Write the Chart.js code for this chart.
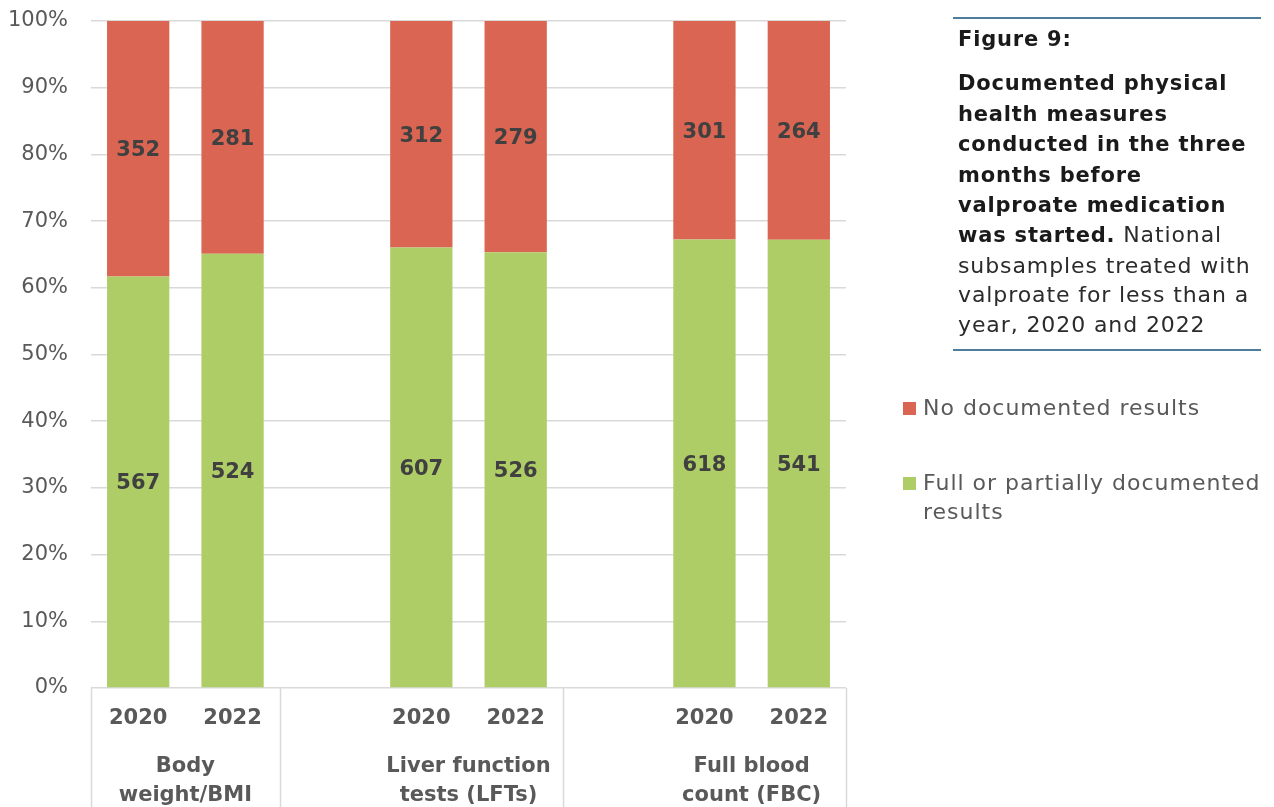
<!DOCTYPE html>
<html>
<head>
<meta charset="utf-8">
<script src="https://cdn.jsdelivr.net/npm/chart.js@4.4.1/dist/chart.umd.min.js"></script>
<style>
  html, body { margin:0; padding:0; background:#fff; }
  body { width:1274px; height:807px; position:relative; overflow:hidden; font-family:"DejaVu Sans", sans-serif; }
  #wrap { position:absolute; left:0; top:0; width:1274px; height:807px; }
  .rule { position:absolute; left:953px; width:308px; height:2px; background:#4e7d9c; }
  #title { position:absolute; left:958px; top:24px; font-size:22px; letter-spacing:0.9px; line-height:29.4px; color:#2b2b2b; white-space:nowrap; }
  #title b { color:#1a1a1a; font-weight:700; font-size:21px; letter-spacing:0.8px; }
  .leg { position:absolute; left:903px; font-size:22px; letter-spacing:1px; line-height:29.4px; color:#595959; white-space:nowrap; }
  .leg span.sw { position:absolute; left:0; top:9px; width:13px; height:13px; }
  .leg span.tx { position:absolute; left:20px; top:0; }
</style>
</head>
<body>
<div id="wrap"><canvas id="c" width="1274" height="807"></canvas></div>
<div class="rule" style="top:17px"></div>
<div id="title"><b>Figure 9:</b><div style="height:14px"></div><b>Documented physical<br>health measures<br>conducted in the three<br>months before<br>valproate medication<br>was started.</b> National<br>subsamples treated with<br>valproate for less than a<br>year, 2020 and 2022</div>
<div class="rule" style="top:349px"></div>
<div class="leg" style="top:393px"><span class="sw" style="background:#d96552"></span><span class="tx">No documented results</span></div>
<div class="leg" style="top:468px"><span class="sw" style="background:#afcd67"></span><span class="tx">Full or partially documented<br>results</span></div>
<script>
const yearLabels = ['2020','2022','','2020','2022','','2020','2022'];
const groupLabels = [['Body','weight/BMI'],['Liver function','tests (LFTs)'],['Full blood','count (FBC)']];
const groupSlots = [[0,1],[3,4],[6,7]];
const noDocCounts = [352, 281, null, 312, 279, null, 301, 264];
const docCounts   = [567, 524, null, 607, 526, null, 618, 541];
const seriesNames = ['Full or partially documented results','No documented results'];
const tickValues = [0,10,20,30,40,50,60,70,80,90,100];

const pct = (a, b) => a.map((v, i) => v == null ? null : 100 * v / (v + b[i]));
const docPct = pct(docCounts, noDocCounts);
const noDocPct = pct(noDocCounts, docCounts);

const FONT = '"DejaVu Sans", sans-serif';
const RED = '#d96552', GREEN = '#afcd67';

const labelPlugin = {
  id: 'labels',
  afterDatasetsDraw(chart) {
    const ctx = chart.ctx;
    ctx.save();
    ctx.font = 'bold 21px ' + FONT;
    ctx.fillStyle = '#404040';
    ctx.textAlign = 'center';
    ctx.textBaseline = 'middle';
    const counts = [docCounts, noDocCounts];
    chart.data.datasets.forEach((ds, di) => {
      const meta = chart.getDatasetMeta(di);
      meta.data.forEach((el, i) => {
        if (counts[di][i] == null) return;
        ctx.fillText(String(counts[di][i]), el.x, (el.y + el.base) / 2 + 2);
      });
    });
    ctx.restore();
  },
  afterDraw(chart) {
    const ctx = chart.ctx;
    const xs = chart.scales.x;
    const area = chart.chartArea;
    const step = xs.getPixelForValue(1) - xs.getPixelForValue(0);
    ctx.save();
    ctx.strokeStyle = '#d9d9d9';
    ctx.lineWidth = 1.5;
    const seps = [ -0.5, 1.5, 4.5, 7.5 ];
    seps.forEach(s => {
      const x = Math.round(xs.getPixelForValue(0) + s * step) + 0.5;
      ctx.beginPath();
      ctx.moveTo(x, area.bottom);
      ctx.lineTo(x, chart.height);
      ctx.stroke();
    });
    ctx.font = 'bold 21px ' + FONT;
    ctx.fillStyle = '#595959';
    ctx.textAlign = 'center';
    ctx.textBaseline = 'middle';
    groupSlots.forEach((sl, gi) => {
      const x = (xs.getPixelForValue(sl[0]) + xs.getPixelForValue(sl[1])) / 2;
      groupLabels[gi].forEach((ln, li) => ctx.fillText(ln, x, area.bottom + 79 + li * 29));
    });
    ctx.restore();
  }
};

new Chart(document.getElementById('c'), {
  type: 'bar',
  data: {
    labels: yearLabels,
    datasets: [
      { label: seriesNames[0], data: docPct, backgroundColor: GREEN, barPercentage: 0.66, categoryPercentage: 1 },
      { label: seriesNames[1], data: noDocPct, backgroundColor: RED, barPercentage: 0.66, categoryPercentage: 1 }
    ]
  },
  options: {
    responsive: false,
    animation: false,
    events: [],
    layout: { padding: { top: 21, right: 428, left: 0, bottom: 0 } },
    plugins: { legend: { display: false }, tooltip: { enabled: false } },
    scales: {
      x: {
        stacked: true,
        grid: { display: false, drawTicks: false },
        border: { display: false },
        ticks: { color: '#595959', font: { family: FONT, size: 21, weight: 'bold' }, padding: 18, maxRotation: 0, autoSkip: false },
        afterFit(s) { s.height = 119; s.paddingTop = 0; s.paddingBottom = 0; }
      },
      y: {
        stacked: true,
        min: 0, max: 100,
        afterBuildTicks(s) { s.ticks = tickValues.map(v => ({ value: v })); },
        grid: { color: '#d9d9d9', lineWidth: 1.5, drawTicks: false },
        border: { display: false },
        ticks: { color: '#595959', font: { family: FONT, size: 21 }, padding: 23, callback: v => v + '%' },
        afterFit(s) { s.width = 91; s.paddingTop = 0; s.paddingBottom = 0; }
      }
    }
  },
  plugins: [labelPlugin]
});
</script>
</body>
</html>
